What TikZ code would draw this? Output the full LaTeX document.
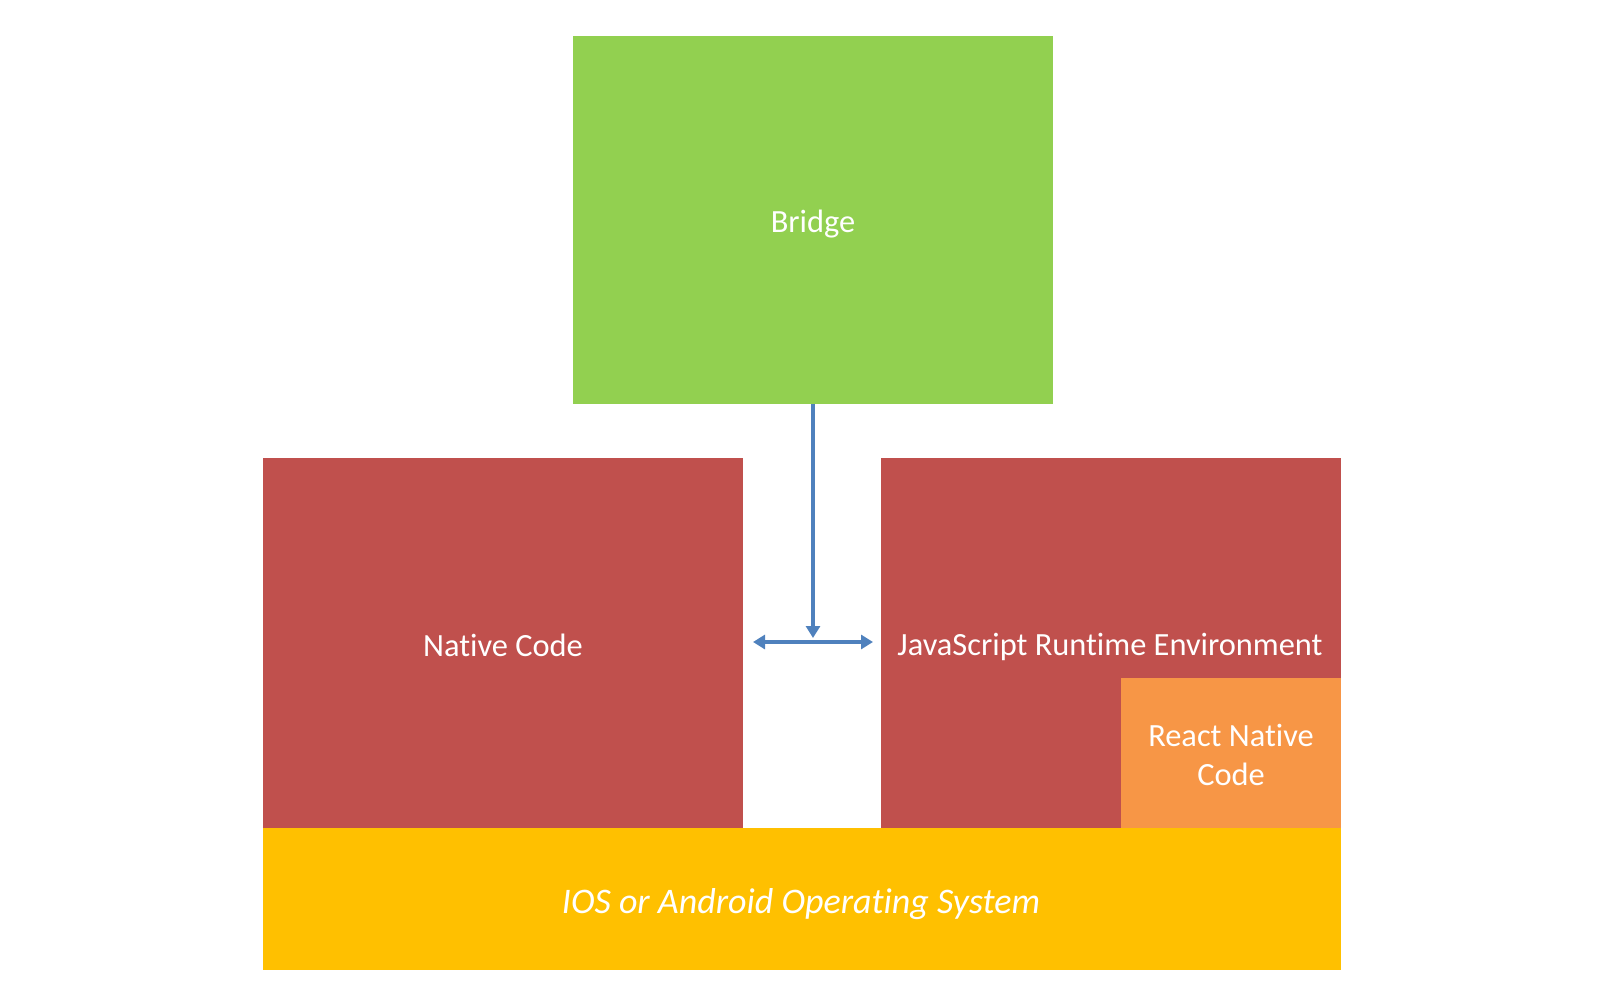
\documentclass[tikz,border=0pt]{standalone}
\usepackage{fontspec}
\setmainfont[Ligatures=NoCommon]{Carlito}
\usetikzlibrary{arrows.meta}
\definecolor{bgreen}{HTML}{92D050}
\definecolor{bred}{HTML}{C0504D}
\definecolor{borange}{HTML}{F79646}
\definecolor{byellow}{HTML}{FFC000}
\definecolor{bblue}{HTML}{4F81BD}
\begin{document}
\begin{tikzpicture}[x=0.5pt,y=-0.5pt,
  blk/.style={inner sep=0pt,outer sep=0pt,font=\fontsize{16.2}{19.5}\selectfont,text=white,align=center},
  conn/.style={draw=bblue,line width=2pt,-{Triangle[length=6pt,width=7pt]}},
  conn2/.style={draw=bblue,line width=2pt,{Triangle[length=6pt,width=7pt]}-{Triangle[length=6pt,width=7pt]}}]
\useasboundingbox (0,0) rectangle (1604,1004);
\fill[bgreen] (573,36) rectangle (1053,404);
\fill[bred] (263,458) rectangle (743,828);
\fill[bred] (881,458) rectangle (1341,828);
\fill[borange] (1121,678) rectangle (1341,828);
\fill[byellow] (263,828) rectangle (1341,970);
\node[blk] (bridge) at (813,224) {Bridge};
\node[blk] (native) at (503,645) {Native Code};
\node[blk] (js) at (1110,647) {JavaScript Runtime Environment};
\node[blk] (rn) at (1231,755) {React Native\\Code};
\node[blk,font=\fontsize{18}{21}\selectfont\itshape] (os) at (801,904) {IOS or Android Operating System};
\coordinate (btop) at (813,404);
\coordinate (bend) at (813,638);
\coordinate (hl) at (753,642);
\coordinate (hr) at (873,642);
\draw[conn] (btop) -- (bend);
\draw[conn2] (hl) -- (hr);
\end{tikzpicture}
\end{document}
